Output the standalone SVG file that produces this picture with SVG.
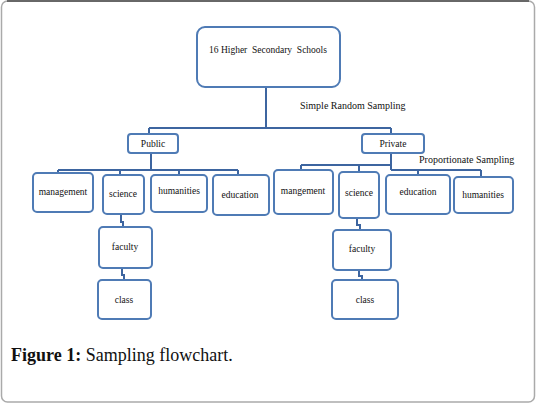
<svg xmlns="http://www.w3.org/2000/svg" width="536" height="404" viewBox="0 0 536 404">
<style>
.box{fill:#fff;stroke:#4f7bb5;stroke-width:2}
.t{font-family:"Liberation Serif",serif;font-size:9.5px;fill:#111;text-anchor:middle}
.lbl{font-family:"Liberation Serif",serif;font-size:10px;fill:#111}
.c{fill:none;stroke:#3d65a0;stroke-width:2}
</style>
<rect x="1.5" y="1" width="533" height="401" rx="6" fill="#fff" stroke="#aaa" stroke-width="1.5"/>
<path d="M7 1 H529" stroke="#111" stroke-width="1"/>
<g id="connectors">
<path class="c" d="M266 87 V128 M149 128 H391 M149 128 V134 M391 128 V134"/>
<path class="c" d="M151 153 V170 M58 170 H238 M58 170 V173 M120 170 V175 M179 170 V175 M238 170 V175"/>
<path class="c" d="M391 153 V170 M301 165 H391 M391 170 H481 M301 165 V170 M359 165 V172 M418 170 V175 M481 170 V177"/>
<path class="c" d="M121 214 V222 H123 V227 M122 268 V275 H124 V280"/>
<path class="c" d="M357 218 V225 H360 V230 M359 270 V276 H362 V280"/>
</g>
<g id="root"><rect class="box" x="197" y="27" width="143" height="60" rx="8"/><text class="t" x="268" y="53" xml:space="preserve">16 Higher  Secondary  Schools</text></g>
<text class="lbl" x="300" y="109">Simple Random Sampling</text>
<g id="public"><rect class="box" x="128" y="134" width="50" height="19" rx="3"/><text class="t" x="153" y="147">Public</text></g>
<g id="private"><rect class="box" x="362" y="134" width="62" height="19" rx="3"/><text class="t" x="393" y="147">Private</text></g>
<text class="lbl" x="419" y="163">Proportionate Sampling</text>
<g id="pub-management"><rect class="box" x="33" y="173" width="60" height="39" rx="4"/><text class="t" x="63" y="195">management</text></g>
<g id="pub-science"><rect class="box" x="103" y="175" width="41" height="39" rx="4"/><text class="t" x="123" y="197">science</text></g>
<g id="pub-humanities"><rect class="box" x="151" y="175" width="56" height="37" rx="4"/><text class="t" x="179" y="194">humanities</text></g>
<g id="pub-education"><rect class="box" x="213" y="175" width="56" height="40" rx="4"/><text class="t" x="240" y="198">education</text></g>
<g id="pub-faculty"><rect class="box" x="99" y="227" width="53" height="41" rx="4"/><text class="t" x="125" y="250">faculty</text></g>
<g id="pub-class"><rect class="box" x="98" y="280" width="53" height="39" rx="4"/><text class="t" x="124" y="303">class</text></g>
<g id="priv-mangement"><rect class="box" x="274" y="170" width="59" height="44" rx="4"/><text class="t" x="303" y="194">mangement</text></g>
<g id="priv-science"><rect class="box" x="339" y="172" width="40" height="46" rx="4"/><text class="t" x="359" y="196">science</text></g>
<g id="priv-education"><rect class="box" x="386" y="175" width="64" height="39" rx="4"/><text class="t" x="418" y="195">education</text></g>
<g id="priv-humanities"><rect class="box" x="454" y="177" width="59" height="36" rx="4"/><text class="t" x="483" y="198">humanities</text></g>
<g id="priv-faculty"><rect class="box" x="333" y="230" width="58" height="40" rx="4"/><text class="t" x="362" y="252">faculty</text></g>
<g id="priv-class"><rect class="box" x="332" y="280" width="66" height="39" rx="4"/><text class="t" x="365" y="303">class</text></g>
<text x="11" y="361" font-family="Liberation Serif,serif" font-size="18" fill="#111"><tspan font-weight="bold">Figure 1:</tspan> Sampling flowchart.</text>
</svg>
